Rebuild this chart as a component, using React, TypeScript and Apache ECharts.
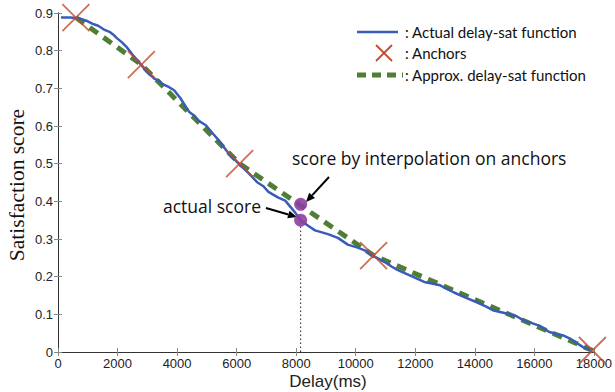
import React, { useEffect, useRef } from "react";
import * as echarts from "echarts";

const actualDelay = [100, 400, 700, 1000, 1200, 1350, 1567, 1750, 1850, 1967, 2150, 2300, 2500, 2767, 3000, 3233, 3400, 3500, 3733, 3900, 4100, 4400, 4600, 4700, 4967, 5200, 5400, 5700, 6067, 6400, 6700, 6900, 7067, 7400, 7633, 7967, 8150, 8400, 8633, 9067, 9400, 9733, 10067, 10300, 10567, 11000, 11200, 11400, 11833, 12300, 12600, 12833, 13300, 13667, 14067, 14400, 14633, 15067, 15400, 15633, 16167, 16500, 16967, 17233, 17633, 17900];
const actualSat = [0.888, 0.888, 0.886, 0.878, 0.87, 0.866, 0.855, 0.849, 0.843, 0.834, 0.822, 0.81, 0.79, 0.765, 0.743, 0.726, 0.72, 0.712, 0.703, 0.695, 0.675, 0.638, 0.626, 0.615, 0.602, 0.58, 0.562, 0.53, 0.5, 0.475, 0.45, 0.44, 0.425, 0.41, 0.402, 0.37, 0.35, 0.335, 0.323, 0.313, 0.303, 0.285, 0.277, 0.27, 0.256, 0.238, 0.227, 0.218, 0.203, 0.186, 0.181, 0.177, 0.158, 0.145, 0.132, 0.12, 0.11, 0.102, 0.095, 0.084, 0.07, 0.053, 0.044, 0.034, 0.013, 0.005];

const anchorDelay = [600, 2800, 6100, 10600, 17950];
const anchorSat = [0.888, 0.763, 0.5, 0.256, 0.004];

const probeDelay = 8150;
const actualScore = 0.35;
const interpScore = 0.392;

const xTicks = [0, 2000, 4000, 6000, 8000, 10000, 12000, 14000, 16000, 18000];
const yTicks = [0, 0.1, 0.2, 0.3, 0.4, 0.5, 0.6, 0.7, 0.8, 0.9];

const BLUE = "#3a5cb8";
const GREEN = "#4e7f34";
const RED = "#c44a2c";
const PURPLE = "#8d3f9e";
const SANS = '"Liberation Sans", Arial, sans-serif';
const HUM = 'Lato, "Open Sans", sans-serif';
const HUM2 = '"Open Sans", Lato, sans-serif';

function arrow(x1: number, y1: number, x2: number, y2: number) {
  const a = Math.atan2(y2 - y1, x2 - x1);
  const L = 9, W = 4;
  const bx = x2 - L * Math.cos(a), by = y2 - L * Math.sin(a);
  const px = -Math.sin(a) * W, py = Math.cos(a) * W;
  return [
    { type: "line", silent: true, shape: { x1, y1, x2: bx, y2: by }, style: { stroke: "#000", lineWidth: 2 } },
    { type: "polygon", silent: true, shape: { points: [[x2, y2], [bx + px, by + py], [bx - px, by - py]] }, style: { fill: "#000" } },
  ];
}

export default function App() {
  const ref = useRef<HTMLDivElement>(null);
  useEffect(() => {
    if (!ref.current) return;
    const chart = echarts.init(ref.current, null, { renderer: "svg" });
    const actualData = actualDelay.map((d, i) => [d, actualSat[i]]);
    const anchorData = anchorDelay.map((d, i) => [d, anchorSat[i]]);
    const axisLine = { show: true, lineStyle: { color: "#333", width: 1 } };
    const tick = { show: true, inside: true, length: 4, lineStyle: { color: "#888" } };
    chart.setOption({
      animation: false,
      grid: { left: 58, right: 17, top: 13, bottom: 40 },
      xAxis: [
        {
          type: "value", min: 0, max: 18000, interval: 2000,
          axisLine, axisTick: tick, splitLine: { show: false },
          axisLabel: { color: "#222", fontSize: 13, fontFamily: SANS, margin: 5, formatter: (v: number) => (xTicks.includes(v) ? String(v) : "") },
        },
        {
          type: "value", min: 0, max: 18000, interval: 2000, position: "top",
          axisLine, axisTick: tick, splitLine: { show: false }, axisLabel: { show: false },
        },
      ],
      yAxis: [
        {
          type: "value", min: 0, max: 0.9, interval: 0.1,
          axisLine, axisTick: tick, splitLine: { show: false },
          axisLabel: { color: "#222", fontSize: 13, fontFamily: SANS, margin: 5, formatter: (v: number) => { const t = yTicks.find((y) => Math.abs(y - v) < 1e-6); return t === undefined ? "" : (t === 0 ? "0" : t.toFixed(1)); } },
        },
        {
          type: "value", min: 0, max: 0.9, interval: 0.1, position: "right",
          axisLine, axisTick: tick, splitLine: { show: false }, axisLabel: { show: false },
        },
      ],
      series: [
        {
          type: "line", data: anchorData, showSymbol: false, symbol: "none",
          lineStyle: { color: GREEN, width: 5, type: [10, 7] }, z: 2,
        },
        {
          type: "line", data: actualData, showSymbol: false, symbol: "none",
          lineStyle: { color: BLUE, width: 2.5 }, z: 3,
        },
        {
          type: "scatter", data: anchorData, symbol: "path://M0,0L10,10M10,0L0,10", symbolSize: 27,
          itemStyle: { color: "none", borderColor: RED, borderWidth: 1.8 }, z: 4,
        },
        {
          type: "line", data: [[probeDelay, 0], [probeDelay, actualScore]], symbol: "none",
          lineStyle: { color: "#222", width: 1, type: [1.5, 2.5] }, z: 3,
        },
        {
          type: "scatter", data: [[probeDelay, interpScore], [probeDelay, actualScore]], symbol: "circle", symbolSize: 13,
          itemStyle: { color: PURPLE, opacity: 0.9 }, z: 5,
        },
      ],
      graphic: [
        { type: "line", silent: true, shape: { x1: 357, y1: 32, x2: 398, y2: 32 }, style: { stroke: BLUE, lineWidth: 2.5 } },
        { type: "text", silent: true, x: 405, y: 32, style: { text: ": Actual delay-sat function", font: `15px ${HUM}`, fill: "#111", verticalAlign: "middle" } },
        { type: "line", silent: true, shape: { x1: 376, y1: 45, x2: 392, y2: 61 }, style: { stroke: RED, lineWidth: 1.8 } },
        { type: "line", silent: true, shape: { x1: 392, y1: 45, x2: 376, y2: 61 }, style: { stroke: RED, lineWidth: 1.8 } },
        { type: "text", silent: true, x: 405, y: 53, style: { text: ": Anchors", font: `15px ${HUM}`, fill: "#111", verticalAlign: "middle" } },
        { type: "line", silent: true, shape: { x1: 357, y1: 75, x2: 403, y2: 75 }, style: { stroke: GREEN, lineWidth: 5, lineDash: [9, 6] } },
        { type: "text", silent: true, x: 405, y: 75, style: { text: ": Approx. delay-sat function", font: `15px ${HUM}`, fill: "#111", verticalAlign: "middle" } },
        { type: "text", silent: true, x: 292, y: 158, style: { text: "score by interpolation on anchors", font: `17.5px ${HUM2}`, fill: "#111", verticalAlign: "middle" } },
        { type: "text", silent: true, x: 163, y: 206, style: { text: "actual score", font: `17.5px ${HUM2}`, fill: "#111", verticalAlign: "middle" } },
        ...arrow(329, 177, 306, 202),
        ...arrow(266, 208, 297, 217),
        { type: "text", silent: true, x: 17, y: 185, rotation: Math.PI / 2, style: { text: "Satisfaction score", font: `21.5px "Liberation Serif", serif`, fill: "#111", align: "center", verticalAlign: "middle" } },
        { type: "text", silent: true, x: 328, y: 381, style: { text: "Delay(ms)", font: `17px ${SANS}`, fill: "#222", align: "center", verticalAlign: "middle" } },
      ],
    });
    return () => chart.dispose();
  }, []);
  return <div ref={ref} style={{ width: 615, height: 392, position: "absolute", left: 0, top: 0, background: "#fff" }} />;
}
